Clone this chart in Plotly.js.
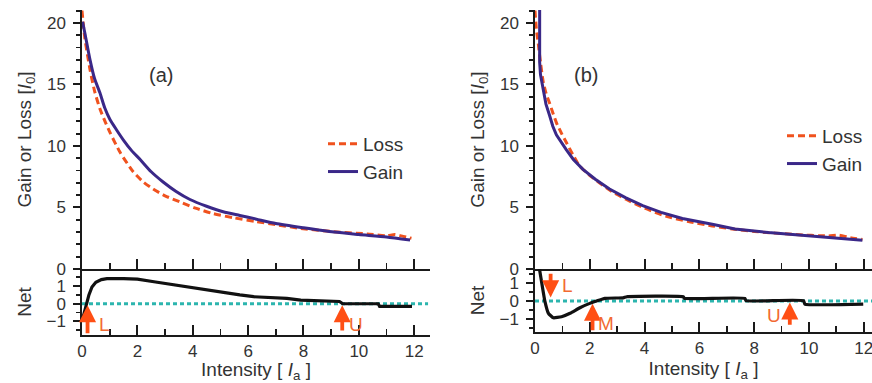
<!DOCTYPE html>
<html>
<head>
<meta charset="utf-8">
<script src="https://cdn.plot.ly/plotly-3.0.1.min.js"></script>
<style>html,body{margin:0;padding:0;background:#fff;}#chart{width:872px;height:383px;}</style>
</head>
<body>
<div id="chart"></div>
<script>
// ---------- data ----------
// panel (a)
const lossAX = [0.0, 0.1, 0.29, 0.45, 0.65, 0.85, 1.01, 1.37, 1.85, 2.2, 2.57, 3.0, 3.54, 4.1, 4.74, 5.5, 6.3, 7.0, 7.9, 9.0, 10.3, 11.0, 11.3, 11.6, 11.9];
const lossAY = [21.0, 18.8, 16.2, 14.5, 13.0, 11.9, 11.1, 9.5, 7.9, 7.1, 6.5, 5.95, 5.45, 4.95, 4.5, 4.15, 3.85, 3.6, 3.3, 3.05, 2.85, 2.7, 2.8, 2.65, 2.5];
const gainAX = [0.02, 0.11, 0.29, 0.45, 0.65, 0.82, 1.01, 1.25, 1.49, 1.8, 2.1, 2.5, 2.93, 3.4, 3.9, 4.5, 5.1, 5.7, 6.3, 7.0, 8.0, 9.1, 10.0, 11.0, 11.85];
const gainAY = [20.1, 19.1, 17.0, 15.5, 14.3, 13.1, 12.15, 11.3, 10.5, 9.6, 8.9, 7.9, 7.07, 6.3, 5.65, 5.1, 4.65, 4.35, 4.05, 3.7, 3.35, 3.0, 2.8, 2.6, 2.35];
const netAX = [0.04, 0.1, 0.17, 0.25, 0.36, 0.5, 0.7, 0.9, 1.5, 2.0, 2.6, 3.3, 3.8, 4.3, 4.8, 5.3, 5.7, 6.2, 6.9, 7.4, 7.9, 8.6, 9.3, 9.42, 10.0, 10.7, 10.75, 11.92];
const netAY = [-0.75, -0.35, 0.0, 0.5, 0.95, 1.22, 1.37, 1.42, 1.42, 1.4, 1.25, 1.08, 0.95, 0.8, 0.7, 0.57, 0.5, 0.4, 0.35, 0.3, 0.21, 0.17, 0.13, 0.0, 0.0, 0.0, -0.15, -0.15];
const crossALabels = ['L', 'U'];
const crossAX = [0.2, 9.4];

// panel (b)
const lossBX = [0.0, 0.05, 0.12, 0.2, 0.3, 0.4, 0.53, 0.65, 0.78, 0.95, 1.14, 1.38, 1.62, 1.95, 2.35, 2.8, 3.32, 4.0, 4.77, 5.6, 6.47, 7.2, 8.0, 9.5, 10.7, 11.1, 11.5, 11.95];
const lossBY = [21.0, 19.5, 18.3, 16.8, 15.2, 14.3, 13.5, 12.7, 11.9, 11.1, 10.3, 9.3, 8.4, 7.7, 7.0, 6.3, 5.67, 4.95, 4.3, 3.85, 3.5, 3.25, 3.05, 2.8, 2.69, 2.75, 2.55, 2.4];
const gainBX = [0.17, 0.17, 0.2, 0.29, 0.4, 0.53, 0.65, 0.78, 0.95, 1.14, 1.4, 1.75, 2.2, 2.72, 3.3, 3.93, 4.6, 5.38, 6.47, 7.3, 8.52, 10.1, 11.0, 11.95];
const gainBY = [21.5, 16.8, 15.8, 14.6, 13.4, 12.5, 11.6, 10.9, 10.3, 9.7, 8.9, 8.1, 7.3, 6.5, 5.8, 5.15, 4.6, 4.1, 3.64, 3.25, 2.96, 2.69, 2.55, 2.34];
const netBX = [0.15, 0.28, 0.36, 0.49, 0.67, 0.97, 1.28, 1.64, 2.0, 2.25, 2.55, 3.22, 3.35, 5.41, 5.45, 7.66, 7.7, 9.8, 9.85, 11.98];
const netBY = [1.9, 0.7, 0.0, -0.68, -0.93, -0.87, -0.68, -0.37, -0.13, 0.0, 0.15, 0.18, 0.24, 0.24, 0.15, 0.15, 0.02, 0.02, -0.17, -0.17];
const crossBLabels = ['L', 'M', 'U'];
const crossBX = [0.57, 2.1, 9.3];

// zero reference line for the Net panels
const zeroX = [0, 12.5];
const zeroY = [0, 0];

// tick labels
const gainTicks = [0, 5, 10, 15, 20];
const netTicks = [-1, 0, 1];
const xTicks = [0, 2, 4, 6, 8, 10, 12];

// ---------- styles ----------
const FONT = 'Liberation Sans, Arial, Helvetica, sans-serif';
const TXT = '#333333';
const AX = '#1a1a1a';
const LOSS_C = '#f0521e';
const GAIN_C = '#3a2888';
const NET_C = '#111111';
const ZERO_C = '#2cb5ae';
const ARROW_C = '#ff4f14';

const traces = [
  {x: lossAX, y: lossAY, xaxis: 'x', yaxis: 'y', name: 'Loss', legend: 'legend', mode: 'lines',
   line: {color: LOSS_C, width: 3, dash: '7px,4px', shape: 'spline', smoothing: 0.6}},
  {x: gainAX, y: gainAY, xaxis: 'x', yaxis: 'y', name: 'Gain', legend: 'legend', mode: 'lines',
   line: {color: GAIN_C, width: 3, shape: 'spline', smoothing: 0.6}},
  {x: zeroX, y: zeroY, xaxis: 'x2', yaxis: 'y2', mode: 'lines', showlegend: false,
   line: {color: ZERO_C, width: 3, dash: '4px,3px'}},
  {x: netAX, y: netAY, xaxis: 'x2', yaxis: 'y2', mode: 'lines', showlegend: false,
   line: {color: NET_C, width: 3.2}},

  {x: lossBX, y: lossBY, xaxis: 'x3', yaxis: 'y3', name: 'Loss', legend: 'legend2', mode: 'lines',
   line: {color: LOSS_C, width: 3, dash: '7px,4px', shape: 'spline', smoothing: 0.6}},
  {x: gainBX, y: gainBY, xaxis: 'x3', yaxis: 'y3', name: 'Gain', legend: 'legend2', mode: 'lines',
   line: {color: GAIN_C, width: 3}},
  {x: zeroX, y: zeroY, xaxis: 'x4', yaxis: 'y4', mode: 'lines', showlegend: false,
   line: {color: ZERO_C, width: 3, dash: '4px,3px'}},
  {x: netBX, y: netBY, xaxis: 'x4', yaxis: 'y4', mode: 'lines', showlegend: false,
   line: {color: NET_C, width: 3.2, shape: 'spline', smoothing: 0.4}}
];

function baseAxis(domain, range, anchor, arr, dir, minorStep) {
  return {domain: domain, range: range, anchor: anchor,
    showline: true, linecolor: AX, linewidth: 1.6, showgrid: false, zeroline: false,
    tickmode: 'linear', tick0: arr[0], dtick: arr[1] - arr[0],
    ticks: dir, ticklen: 10, tickwidth: 2, tickcolor: AX,
    minor: {dtick: minorStep, ticks: dir, ticklen: 6, tickwidth: 1.8, tickcolor: AX, showgrid: false},
    tickfont: {family: FONT, size: 17, color: TXT}};
}
function xAxisTop(domain, range, anchor) {
  const a = baseAxis(domain, range, anchor, xTicks, 'inside', 1);
  a.showticklabels = false;
  return a;
}
function xAxisNet(domain, range, anchor) {
  const a = baseAxis(domain, range, anchor, xTicks, 'inside', 1);
  a.ticklabeloverflow = 'allow';
  a.title = {text: 'Intensity [ <i>I</i><sub>a</sub> ]', font: {family: FONT, size: 19, color: TXT}, standoff: 4};
  return a;
}
function yAxisTop(domain, range, anchor) {
  const a = baseAxis(domain, range, anchor, gainTicks, 'outside', 1);
  a.ticklen = 7;
  a.minor.ticklen = 4;
  a.ticklabelstandoff = 4;
  a.title = {text: 'Gain or Loss [<i>I</i><sub>0</sub>]', font: {family: FONT, size: 19, color: TXT}, standoff: 10};
  return a;
}
function yAxisNet(domain, range, anchor) {
  const a = baseAxis(domain, range, anchor, netTicks, 'outside', 0.5);
  a.ticklen = 7;
  a.minor.ticklen = 4;
  a.ticklabelstandoff = 4;
  a.title = {text: 'Net', font: {family: FONT, size: 19, color: TXT}, standoff: 10};
  return a;
}

const W = 872, H = 383;
const dxA = [82 / W, 430 / W];
const dxB = [535 / W, 1];
const dyTop = [(H - 269) / H, (H - 10) / H];
const dyNetA = [(H - 335) / H, (H - 269) / H];
const dyNetB = [(H - 332) / H, (H - 269) / H];

// arrows marking crossing points
const annotations = [];
function addCross(xref, yref, xs, labels, specs) {
  xs.forEach((xv, i) => {
    const s = specs[i];
    annotations.push({xref: xref, yref: yref, axref: xref, ayref: yref,
      x: xv, y: s.head, ax: xv, ay: s.tail, text: '', showarrow: true,
      arrowhead: 2, arrowsize: 0.9, arrowwidth: 3.8, arrowcolor: ARROW_C});
    annotations.push({xref: xref, yref: yref, x: xv + s.dx, y: s.ly, text: labels[i], showarrow: false,
      font: {family: FONT, size: 19, color: '#f26a32'}});
  });
}
addCross('x2', 'y2', crossAX, crossALabels, [
  {head: -0.08, tail: -1.75, dx: 0.6, ly: -1.15},
  {head: -0.08, tail: -1.6, dx: 0.5, ly: -1.15}
]);
addCross('x4', 'y4', crossBX, crossBLabels, [
  {head: 0.2, tail: 1.6, dx: 0.62, ly: 0.85},
  {head: -0.15, tail: -1.7, dx: 0.5, ly: -1.25},
  {head: -0.08, tail: -1.4, dx: -0.58, ly: -0.8}
]);
annotations.push({xref: 'paper', yref: 'paper', x: 147 / W, y: 1 - 62 / H, text: '(a)', showarrow: false,
  font: {family: FONT, size: 20, color: TXT}});
annotations.push({xref: 'paper', yref: 'paper', x: 600 / W, y: 1 - 62 / H, text: '(b)', showarrow: false,
  font: {family: FONT, size: 20, color: TXT}});

const layout = {
  width: W, height: H,
  margin: {l: 0, r: 0, t: 0, b: 0},
  paper_bgcolor: '#ffffff', plot_bgcolor: 'rgba(0,0,0,0)',
  font: {family: FONT, color: TXT},
  xaxis: xAxisTop(dxA, [0, 12.57], 'y'),
  yaxis: yAxisTop(dyTop, [0, 21.05], 'x'),
  xaxis2: xAxisNet(dxA, [0, 12.57], 'y2'),
  yaxis2: yAxisNet(dyNetA, [-1.77, 1.97], 'x2'),
  xaxis3: xAxisTop(dxB, [0, 12.3], 'y3'),
  yaxis3: yAxisTop(dyTop, [0, 21.05], 'x3'),
  xaxis4: xAxisNet(dxB, [0, 12.3], 'y4'),
  yaxis4: yAxisNet(dyNetB, [-1.72, 1.78], 'x4'),
  legend: {x: 323 / W, y: 1 - 125 / H, xanchor: 'left', yanchor: 'top', bgcolor: 'rgba(0,0,0,0)',
    font: {family: FONT, size: 19, color: TXT}, tracegroupgap: 0},
  legend2: {x: 782 / W, y: 1 - 117 / H, xanchor: 'left', yanchor: 'top', bgcolor: 'rgba(0,0,0,0)',
    font: {family: FONT, size: 19, color: TXT}, tracegroupgap: 0},
  annotations: annotations,
  showlegend: true
};

Plotly.newPlot('chart', traces, layout, {staticPlot: true, displayModeBar: false});
</script>
</body>
</html>
